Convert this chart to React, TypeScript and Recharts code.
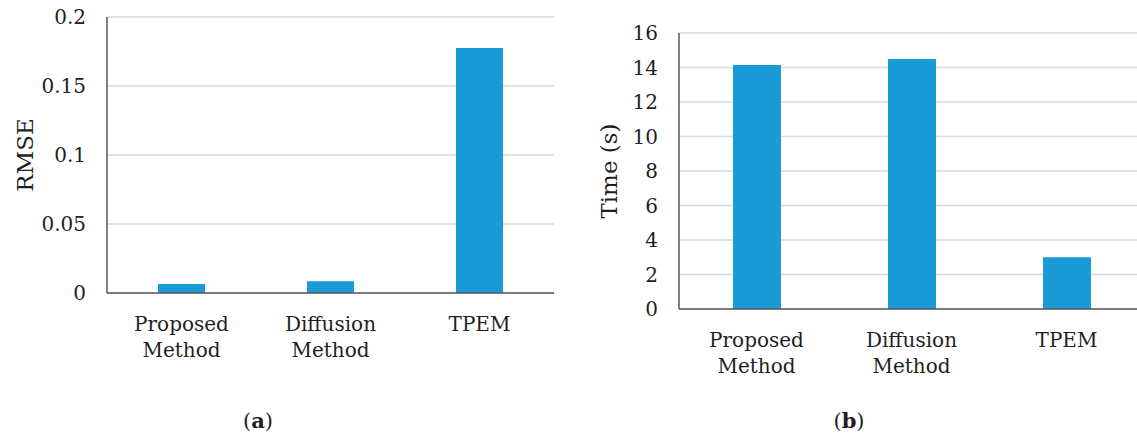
import { BarChart, Bar, XAxis, YAxis, CartesianGrid } from 'recharts'

const methods = ['Proposed\nMethod', 'Diffusion\nMethod', 'TPEM']
const rmseValues = [0.0065, 0.0086, 0.1775]
const timeValues = [14.15, 14.5, 3.0]
const rmseTicks = [0, 0.05, 0.1, 0.15, 0.2]
const timeTicks = [0, 2, 4, 6, 8, 10, 12, 14, 16]

const FONT = '"DejaVu Serif", "Liberation Serif", serif'
const TEXT = '#1f1f1f'
const BAR = '#1a9ad6'
const AXIS = '#595959'
const GRID = '#d9d9d9'

const rmseData = methods.map((name, i) => ({ name, value: rmseValues[i] }))
const timeData = methods.map((name, i) => ({ name, value: timeValues[i] }))

const CategoryTick = (props: any) => {
  const { x, y, payload } = props
  const lines = String(payload.value).split('\n')
  return (
    <text x={x} y={y} textAnchor="middle" fill={TEXT} fontSize={20} fontFamily={FONT}>
      {lines.map((line, i) => (
        <tspan key={i} x={x} y={y + 38 + i * 26}>{line}</tspan>
      ))}
    </text>
  )
}

const ValueTick = (props: any) => {
  const { x, y, payload } = props
  return (
    <text x={x} y={y} textAnchor="end" dominantBaseline="central" fill={TEXT} fontSize={20} fontFamily={FONT}>
      {payload.value}
    </text>
  )
}

const axisTitle = (text: string, offsetX: number) => (props: any) => {
  const vb = props.viewBox
  const cx = vb.x + offsetX
  const cy = vb.y + vb.height / 2
  return (
    <text
      x={cx}
      y={cy}
      transform={`rotate(-90, ${cx}, ${cy})`}
      textAnchor="middle"
      dominantBaseline="central"
      fill={TEXT}
      fontSize={23}
      fontFamily={FONT}
    >
      {text}
    </text>
  )
}

function Panel({ data, ticks, max, title, titleX, top, left, width, yWidth, barSize }: any) {
  return (
    <div style={{ position: 'absolute', left, top: 0 }}>
      <BarChart
        width={width}
        height={top + 276 + 80}
        data={data}
        margin={{ top, right: 6, left: 0, bottom: 0 }}
      >
        <CartesianGrid vertical={false} stroke={GRID} strokeWidth={1.5} />
        <XAxis
          dataKey="name"
          height={80}
          tickLine={false}
          tickSize={0}
          tickMargin={0}
          interval={0}
          axisLine={{ stroke: AXIS, strokeWidth: 1.5 }}
          tick={<CategoryTick />}
        />
        <YAxis
          width={yWidth}
          domain={[0, max]}
          ticks={ticks}
          interval={0}
          tickLine={false}
          tickSize={0}
          tickMargin={21}
          axisLine={{ stroke: AXIS, strokeWidth: 1.5 }}
          tick={<ValueTick />}
          label={{ content: axisTitle(title, titleX) }}
        />
        <Bar dataKey="value" fill={BAR} barSize={barSize} isAnimationActive={false} />
      </BarChart>
    </div>
  )
}

export default function App() {
  return (
    <div
      style={{
        position: 'absolute',
        left: 0,
        top: 0,
        width: 1137,
        height: 438,
        overflow: 'hidden',
        background: '#ffffff',
        fontFamily: FONT,
      }}
    >
      <Panel data={rmseData} ticks={rmseTicks} max={0.2} title="RMSE" titleX={25}
        top={17} left={0} width={560} yWidth={107} barSize={47} />
      <Panel data={timeData} ticks={timeTicks} max={16} title="Time (s)" titleX={49}
        top={33} left={560} width={590} yWidth={119} barSize={48} />
      <div style={{ position: 'absolute', left: 258, top: 408, transform: 'translateX(-50%)', fontSize: 21, color: TEXT }}>
        (<b>a</b>)
      </div>
      <div style={{ position: 'absolute', left: 849, top: 408, transform: 'translateX(-50%)', fontSize: 21, color: TEXT }}>
        (<b>b</b>)
      </div>
    </div>
  )
}
